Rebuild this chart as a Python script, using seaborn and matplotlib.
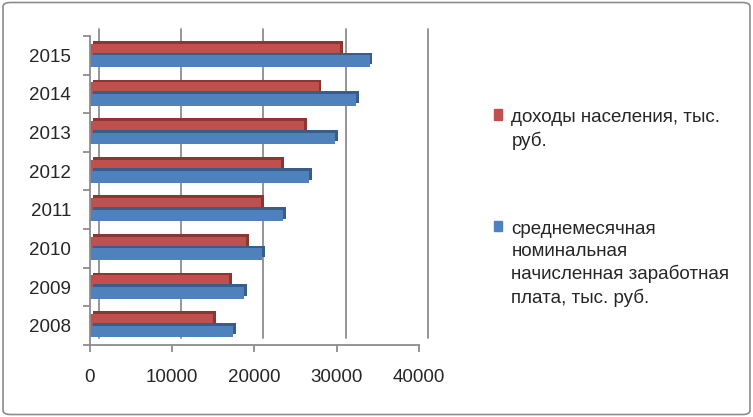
import matplotlib
matplotlib.use("Agg")
import matplotlib.pyplot as plt
import matplotlib.transforms as mtransforms
import matplotlib.patheffects as pe
from matplotlib.patches import FancyBboxPatch
import seaborn as sns
import pandas as pd

# Data
years = ["2015", "2014", "2013", "2012", "2011", "2010", "2009", "2008"]
income = [30400, 27800, 26000, 23200, 20800, 19000, 16900, 14950]
salary = [34000, 32400, 29800, 26600, 23450, 20900, 18700, 17400]
series_names = ["доходы населения, тыс. руб.",
                "среднемесячная номинальная начисленная заработная плата, тыс. руб."]
legend_labels = ["доходы населения, тыс.\nруб.",
                 "среднемесячная\nноминальная\nначисленная заработная\nплата, тыс. руб."]
xticks = [0, 10000, 20000, 30000, 40000]
colors = ["#C0504D", "#4F81BD"]
side_colors = ["#8C3532", "#385D8A"]

df = pd.DataFrame({
    "year": years * 2,
    "value": income + salary,
    "series": [series_names[0]] * len(years) + [series_names[1]] * len(years),
})

sns.set_style("white")
plt.rcParams["font.family"] = ["Liberation Sans", "DejaVu Sans"]
FS = 13.5

fig = plt.figure(figsize=(7.53, 4.17), dpi=100)
ax = fig.add_axes([0.1195, 0.1727, 0.4369, 0.741])

sns.barplot(data=df, x="value", y="year", hue="series", order=years,
            hue_order=series_names, palette=colors, orient="h",
            width=0.6, dodge=True, ax=ax, legend=False, saturation=1)

# dark side face behind each bar to hint the 3D look
for i, cont in enumerate(ax.containers):
    for bar in cont:
        bar.set_linewidth(0)
        bar.set_path_effects([
            pe.SimplePatchShadow(offset=(2, 2), shadow_rgbFace=side_colors[i], alpha=1),
            pe.Normal()])

ax.set_xlim(0, 40000)
ax.set_ylim(len(years) - 0.5, -0.5)
ax.set_xticks(xticks)
ax.set_xticklabels([str(t) for t in xticks])
ax.set_xlabel("")
ax.set_ylabel("")

# back-wall gridlines, shifted like the 3D chart
shift = mtransforms.ScaledTranslation(9 / 100, 7 / 100, fig.dpi_scale_trans)
for t in xticks:
    ax.plot([t, t], [0, 1], color="#8C8C8C", lw=1.3, zorder=0, clip_on=False,
            transform=ax.get_xaxis_transform() + shift)

for side in ["top", "right"]:
    ax.spines[side].set_visible(False)
for side in ["left", "bottom"]:
    ax.spines[side].set_color("#8C8C8C")
    ax.spines[side].set_linewidth(1.3)

ax.set_yticks([k - 0.5 for k in range(len(years) + 1)], minor=True)
ax.tick_params(axis="y", which="major", length=0, pad=13.5, labelsize=FS)
ax.tick_params(axis="y", which="minor", length=5, color="#8C8C8C", width=1.3, direction="out", left=True)
ax.tick_params(axis="x", which="major", length=5, color="#8C8C8C", width=1.3, direction="out",
               bottom=True, pad=12, labelsize=FS)

handles = [plt.Rectangle((0, 0), 1, 1, color=c) for c in colors]
leg = fig.legend(handles, legend_labels, loc="upper left", bbox_to_anchor=(0.633, 0.778),
                 frameon=False, fontsize=FS, handlelength=0.45, handleheight=0.45,
                 handletextpad=0.5, labelspacing=3.8)
for txt in leg.get_texts():
    txt.set_linespacing(1.36)
# put the colour square next to the first line of each label
for col in leg._legend_handle_box.get_children():
    for item in col.get_children():
        item.align = "top"

fig.patches.append(FancyBboxPatch((0.004, 0.006), 0.992, 0.988, boxstyle="round,pad=0,rounding_size=0.01",
                                  transform=fig.transFigure, fill=False, ec="#8C8C8C", lw=1.2))

fig.savefig("out.png", dpi=100)
